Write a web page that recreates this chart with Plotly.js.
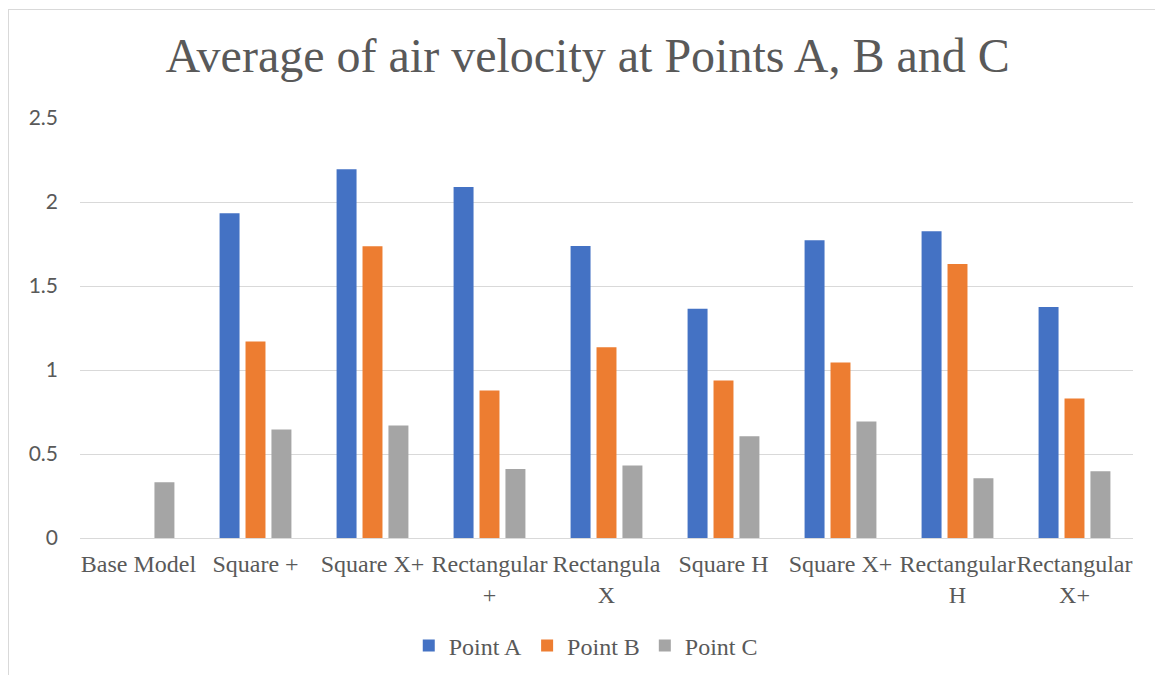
<!DOCTYPE html>
<html>
<head>
<meta charset="utf-8">
<script src="https://cdn.plot.ly/plotly-3.0.1.min.js"></script>
<style>
  html, body { margin: 0; padding: 0; background: #ffffff; }
  #wrap { position: relative; width: 1155px; height: 675px; overflow: hidden; }
  #chart { position: absolute; left: 0; top: 0; width: 1155px; height: 675px; }
  #frame { position: absolute; left: 8px; top: 9px; width: 1200px; height: 700px;
           border-left: 1px solid #d9d9d9; border-top: 1px solid #d9d9d9; pointer-events: none; }
</style>
</head>
<body>
<div id="wrap">
  <div id="chart"></div>
  <div id="frame"></div>
</div>
<script>
// Data
const categories = ["Base Model", "Square +", "Square X+", "Rectangular<br>+", "Rectangula<br>X",
                    "Square H", "Square X+", "Rectangular<br>H", "Rectangular<br>X+"];
const seriesNames = ["Point A", "Point B", "Point C"];
const pointA = [0, 1.933, 2.195, 2.090, 1.738, 1.365, 1.772, 1.826, 1.375];
const pointB = [0, 1.170, 1.737, 0.878, 1.135, 0.938, 1.045, 1.631, 0.831];
const pointC = [0.332, 0.646, 0.670, 0.411, 0.431, 0.606, 0.694, 0.356, 0.398];
const colors = ["#4472C4", "#ED7D31", "#A5A5A5"];
const yTicks = [0, 0.5, 1, 1.5, 2, 2.5];

const positions = categories.map((c, i) => i);
const values = [pointA, pointB, pointC];

const traces = values.map((v, k) => ({
  type: "bar",
  name: seriesNames[k],
  x: positions,
  y: v,
  marker: { color: colors[k], line: { width: 0 } },
  hoverinfo: "y+name"
}));

const serif = "Liberation Serif, Times New Roman, serif";

const layout = {
  width: 1155,
  height: 675,
  paper_bgcolor: "#ffffff",
  plot_bgcolor: "#ffffff",
  margin: { l: 80, r: 22, t: 118, b: 137, pad: 0 },
  title: {
    text: "Average of air velocity at Points A, B and C",
    font: { family: serif, size: 48, color: "#595959" },
    x: 0.5088, xref: "container", xanchor: "center",
    y: 0.918, yref: "container", yanchor: "middle"
  },
  barmode: "group",
  bargap: 0.335,
  bargroupgap: 0.23,
  xaxis: {
    range: [-0.5, 8.5],
    tickmode: "array",
    tickvals: positions,
    ticktext: categories,
    tickangle: 0,
    showgrid: false,
    zeroline: false,
    showline: false,
    ticks: "",
    ticklabelstandoff: 9,
    tickfont: { family: serif, size: 24, color: "#595959" },
    fixedrange: true
  },
  yaxis: {
    range: [0, 2.5],
    tickmode: "array",
    tickvals: yTicks,
    ticktext: yTicks.map(String),
    showgrid: true,
    gridcolor: "#d9d9d9",
    gridwidth: 1,
    zeroline: true,
    zerolinecolor: "#d9d9d9",
    zerolinewidth: 1,
    showline: false,
    ticks: "",
    ticklabelstandoff: 21,
    tickfont: { family: "Lato, Carlito, Calibri, sans-serif", size: 21, color: "#595959" },
    fixedrange: true
  },
  showlegend: true,
  legend: {
    orientation: "h",
    x: 0.4803, xref: "paper", xanchor: "center",
    y: 0.043, yref: "container", yanchor: "middle",
    font: { family: serif, size: 24, color: "#595959" },
    bgcolor: "rgba(0,0,0,0)",
    traceorder: "normal"
  }
};

Plotly.newPlot("chart", traces, layout, { displayModeBar: false, staticPlot: true });
</script>
</body>
</html>
